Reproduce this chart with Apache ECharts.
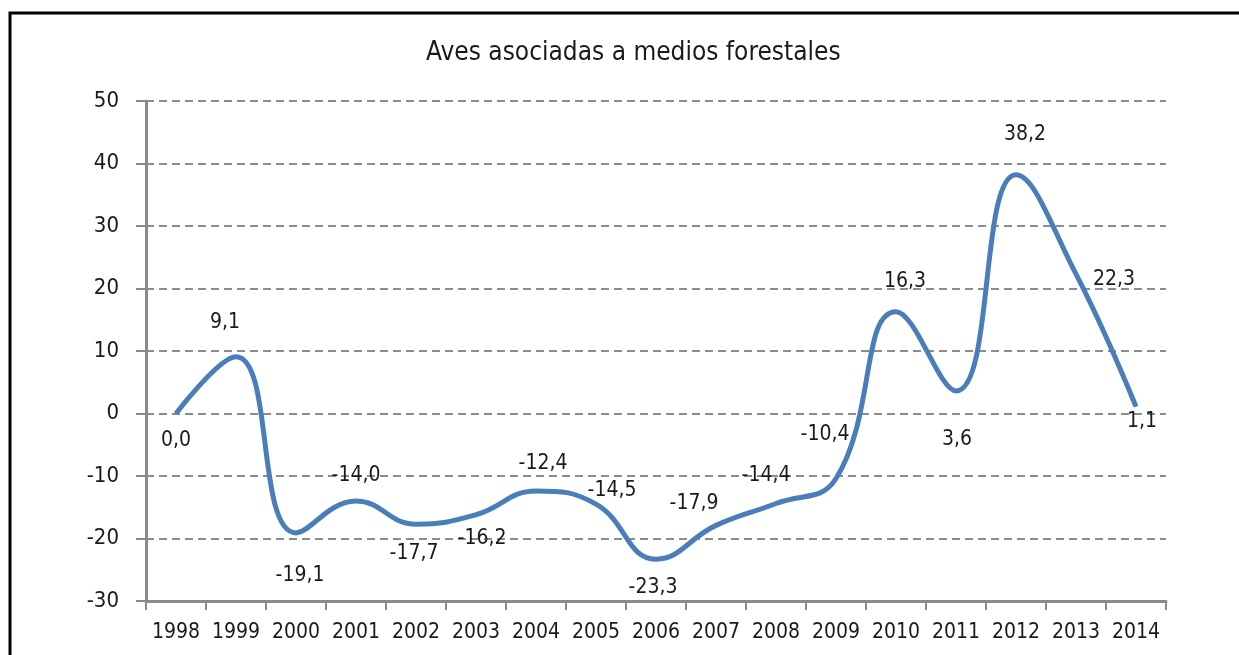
<!DOCTYPE html>
<html>
<head>
<meta charset="utf-8">
<script src="https://cdn.jsdelivr.net/npm/echarts@6/dist/echarts.min.js"></script>
<style>
html,body{margin:0;padding:0;background:#fff;}
#chart{width:1239px;height:655px;}
</style>
</head>
<body>
<div id="chart"></div>
<script>
var years = ['1998','1999','2000','2001','2002','2003','2004','2005','2006','2007','2008','2009','2010','2011','2012','2013','2014'];
var values = [0.0, 9.1, -19.1, -14.0, -17.7, -16.2, -12.4, -14.5, -23.3, -17.9, -14.4, -10.4, 16.3, 3.6, 38.2, 22.3, 1.1];
// label offsets from each point
var labelOffsets = [[0,27],[-11,-34],[4,43],[0,-25],[-2,29],[6,24],[7,-27],[16,-14],[-3,28],[-22,-22],[-10,-28],[-11,-44],[9,-30],[1,49],[9,-40],[38,5],[6,15]];

var font = "'DejaVu Sans Condensed', 'Liberation Sans Narrow', sans-serif";
var chart = echarts.init(document.getElementById('chart'));

var points = values.map(function(v, i){
	return {
		value: v,
		label: { offset: labelOffsets[i] }
	};
});

var option = {
	backgroundColor: '#fff',
	animation: false,
	title: {
		text: 'Aves asociadas a medios forestales',
		left: 421,
		top: 35,
		textStyle: { fontFamily: font, fontSize: 26, fontWeight: 'normal', color: '#1a1a1a' }
	},
	graphic: [{
		type: 'rect',
		shape: { x: 10, y: 13, width: 1400, height: 900 },
		style: { fill: 'none', stroke: '#000', lineWidth: 3 },
		silent: true
	}],
	grid: { left: 146, right: 73, top: 101, bottom: 54 },
	xAxis: {
		type: 'category',
		data: years,
		boundaryGap: true,
		axisLine: { onZero: false, lineStyle: { color: '#8a8a8a', width: 3 } },
		axisTick: { show: true, length: 9, lineStyle: { color: '#8a8a8a', width: 2 } },
		axisLabel: { fontFamily: font, fontSize: 21, color: '#1a1a1a', margin: 21, interval: 0 },
		splitLine: { show: false }
	},
	yAxis: {
		type: 'value',
		min: -30,
		max: 50,
		interval: 10,
		axisLine: { show: true, lineStyle: { color: '#8a8a8a', width: 3 } },
		axisTick: { show: true, length: 10, lineStyle: { color: '#8a8a8a', width: 2 } },
		axisLabel: { fontFamily: font, fontSize: 22, color: '#1a1a1a', margin: 27 },
		splitLine: { show: true, lineStyle: { color: '#8c8c8c', width: 2, type: [8, 5] } }
	},
	series: [{
		type: 'line',
		data: points,
		smooth: 0.45,
		symbol: 'circle',
		symbolSize: 1,
		itemStyle: { color: '#4a7ebb' },
		lineStyle: { color: '#4a7ebb', width: 5 },
		label: {
			show: true,
			position: 'inside',
			fontFamily: font,
			fontSize: 21,
			color: '#1a1a1a',
			formatter: function(p){ return p.value.toFixed(1).replace('.', ','); }
		}
	}]
};
chart.setOption(option);
</script>
</body>
</html>
